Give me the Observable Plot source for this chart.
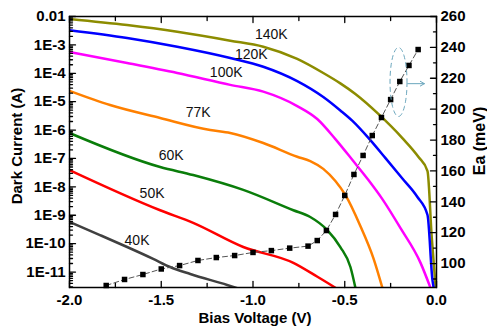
<!DOCTYPE html>
<html>
<head>
<meta charset="utf-8">
<script src="https://cdn.jsdelivr.net/npm/d3@7"></script>
<script src="https://cdn.jsdelivr.net/npm/@observablehq/plot@0.6"></script>
<style>
  html, body { margin: 0; padding: 0; background: #fff; }
  #chart { width: 487px; height: 332px; }
</style>
</head>
<body>
<div id="chart"></div>
<script>
// ---- data ----
const tempLabels = ["140K", "120K", "100K", "77K", "60K", "50K", "40K"];
const tempColors = ["#8c8c00", "#0000ff", "#ff00ff", "#ff8000", "#0a7d0a", "#ff0000", "#404040"];

const v140 = [-2.0, -1.686, -1.413, -1.124, -0.944, -0.759, -0.617, -0.524, -0.442, -0.317, -0.186, -0.098, -0.049, -0.026, -0.004];
const i140 = [8.2e-3, 5.0e-3, 2.9e-3, 1.41e-3, 8.6e-4, 3.2e-4, 1.02e-4, 4.4e-5, 1.86e-5, 3.7e-6, 5.2e-7, 1.12e-7, 3.6e-8, 1.7e-10, 2.5e-12];

const v120 = [-2.0, -1.686, -1.413, -1.124, -0.944, -0.759, -0.617, -0.524, -0.458, -0.37, -0.278, -0.186, -0.104, -0.049, -0.022, -0.014];
const i120 = [3.3e-3, 1.75e-3, 8.6e-4, 3.45e-4, 1.7e-4, 5.3e-5, 1.46e-5, 4.9e-6, 2.1e-6, 5.2e-7, 1.03e-7, 1.97e-8, 4.4e-9, 1.02e-9, 5.2e-12, 2.5e-12];

const v100 = [-2.0, -1.686, -1.413, -1.124, -0.944, -0.759, -0.65, -0.551, -0.458, -0.371, -0.295, -0.196, -0.087, -0.033];
const i100 = [5.6e-4, 2.3e-4, 1.02e-4, 3.9e-5, 2.25e-5, 7.0e-6, 2.45e-6, 4.8e-7, 8.8e-8, 1.74e-8, 3.7e-9, 3.5e-10, 2.1e-11, 2.8e-12];

const v77 = [-2.0, -1.779, -1.506, -1.233, -1.124, -0.944, -0.759, -0.688, -0.617, -0.551, -0.497, -0.415, -0.344, -0.295];
const i77 = [2.4e-5, 7.6e-6, 2.66e-6, 1.0e-6, 7.9e-7, 3.5e-7, 1.15e-7, 8.1e-8, 4.3e-8, 1.6e-8, 5.2e-9, 4.2e-10, 3.1e-11, 2.8e-12];

const v60 = [-2.0, -1.506, -1.326, -1.053, -0.78, -0.688, -0.595, -0.524, -0.469, -0.442];
const i60 = [7.9e-7, 5.0e-8, 2.6e-8, 7.8e-9, 1.5e-9, 8.7e-10, 3.0e-10, 7.6e-11, 1.5e-11, 2.8e-12];

const v50 = [-2.0, -1.506, -1.326, -1.053, -0.78, -0.649, -0.551];
const i50 = [3.9e-8, 1.5e-9, 5.4e-10, 7.6e-11, 2.1e-11, 6.8e-12, 2.8e-12];

const v40 = [-2.0, -1.834, -1.686, -1.544, -1.452, -1.342, -1.141, -1.07];
const i40 = [5.8e-10, 2.0e-10, 7.6e-11, 2.9e-11, 1.5e-11, 8.5e-12, 3.5e-12, 2.5e-12];

// label positions (bias, current)
const labelV = [-0.9, -1.009, -1.146, -1.299, -1.446, -1.55, -1.632];
const labelI = [2.24e-3, 4.4e-4, 1.03e-4, 4.0e-6, 1.23e-7, 5.6e-9, 1.24e-10];

// activation energy (right axis)
const eaV = [-1.8, -1.7, -1.6, -1.5, -1.4, -1.3, -1.2, -1.1, -1.0, -0.9, -0.8, -0.7, -0.65, -0.6, -0.55, -0.5, -0.45, -0.4, -0.35, -0.3, -0.25, -0.2, -0.15, -0.1];
const eaE = [85.8, 89.7, 92.9, 96.5, 98.7, 102, 103.9, 105.2, 107.2, 108.4, 110, 111.3, 114.9, 121.4, 131.8, 144.1, 157.7, 170, 182.9, 194.6, 206.2, 217.9, 228.3, 238.6];

// tick labels
const xMajor = [-2.0, -1.5, -1.0, -0.5, 0.0];
const xMinor = [-1.75, -1.25, -0.75, -0.25];
const yDecades = [1e-11, 1e-10, 1e-9, 1e-8, 1e-7, 1e-6, 1e-5, 1e-4, 1e-3, 1e-2];
const yLabels = ["1E-11", "1E-10", "1E-9", "1E-8", "1E-7", "1E-6", "1E-5", "1E-4", "1E-3", "0.01"];
const eaMajor = [100, 120, 140, 160, 180, 200, 220, 240, 260];
const eaMinor = [90, 110, 130, 150, 170, 190, 210, 230, 250];

// ---- scale ranges ----
const xLeft = -2, xRight = 0;
const logTop = -2, logBottom = -11.545;
const eaTop = 260, eaBottom = 84.5;
const iTop = Math.pow(10, logTop), iBottom = Math.pow(10, logBottom);
const eaToI = e => Math.pow(10, logTop - (eaTop - e) / (eaTop - eaBottom) * (logTop - logBottom));

const series = [[v140, i140], [v120, i120], [v100, i100], [v77, i77], [v60, i60], [v50, i50], [v40, i40]];
const curves = [];
series.forEach(([vs, is], k) => vs.forEach((v, j) => curves.push({T: tempLabels[k], V: v, I: is[j]})));
const labels = tempLabels.map((t, k) => ({T: t, V: labelV[k], I: labelI[k]}));
const ea = eaV.map((v, j) => ({V: v, I: eaToI(eaE[j])}));

const yMinor = [];
for (let e = -12; e <= -3; e++) for (let m = 2; m <= 9; m++) {
  const val = m * Math.pow(10, e);
  if (val > iBottom && val < iTop) yMinor.push(val);
}

const tickShape = {draw(ctx, l) { ctx.moveTo(0, 0); ctx.lineTo(0, -l); }};
const ellipseSymbol = {
  draw(ctx) {
    const rx = 8.5, ry = 34.5, n = 72;
    ctx.moveTo(rx, 0);
    for (let k = 1; k <= n; k++) {
      const t = 2 * Math.PI * k / n;
      ctx.lineTo(rx * Math.cos(t), ry * Math.sin(t));
    }
    ctx.closePath();
  }
};
const tickOpts = {anchor: "start", shape: tickShape, stroke: "#000", strokeWidth: 1.3};

const chart = Plot.plot({
  width: 487,
  height: 332,
  marginLeft: 69,
  marginRight: 51,
  marginTop: 16,
  marginBottom: 45,
  style: {fontFamily: "'Liberation Sans', Arial, sans-serif", fontSize: "15px", fontWeight: "bold", background: "#fff", color: "#000"},
  x: {domain: [xLeft, xRight], axis: null},
  y: {type: "log", domain: [iBottom, iTop], axis: null},
  color: {domain: tempLabels, range: tempColors},
  marks: [
    Plot.line(curves, {x: "V", y: "I", z: "T", stroke: "T", strokeWidth: 2.5, curve: "monotone-x", clip: true}),
    Plot.text(labels, {x: "V", y: "I", text: "T", fontSize: 14, fontWeight: "normal", fill: "#111"}),
    Plot.line(ea, {x: "V", y: "I", stroke: "#555", strokeWidth: 1, strokeDasharray: "5,3"}),
    Plot.dot(ea, {x: "V", y: "I", symbol: "square", r: 3.1, fill: "#000", stroke: "none"}),
    Plot.dot([{V: -0.207, I: eaToI(217.6)}], {x: "V", y: "I", symbol: ellipseSymbol, r: 5, fill: "none", stroke: "#6aa6bd", strokeWidth: 1, strokeDasharray: "5,3"}),
    Plot.arrow([{V1: -0.157, V2: -0.066, I: eaToI(216.5)}], {x1: "V1", x2: "V2", y1: "I", y2: "I", stroke: "#6aa6bd", strokeWidth: 1, headLength: 7}),
    Plot.frame({stroke: "#000", strokeWidth: 1.5}),
    // ticks (inward)
    Plot.vector(xMajor, {x: d => d, y: () => iBottom, length: 6, rotate: 0, ...tickOpts}),
    Plot.vector(xMinor, {x: d => d, y: () => iBottom, length: 4, rotate: 0, ...tickOpts}),
    Plot.vector(xMajor, {x: d => d, y: () => iTop, length: 6, rotate: 180, ...tickOpts}),
    Plot.vector(xMinor, {x: d => d, y: () => iTop, length: 4, rotate: 180, ...tickOpts}),
    Plot.vector(yDecades, {x: () => xLeft, y: d => d, length: 6, rotate: 90, ...tickOpts}),
    Plot.vector(yMinor, {x: () => xLeft, y: d => d, length: 3, rotate: 90, ...tickOpts}),
    Plot.vector(eaMajor, {x: () => xRight, y: eaToI, length: 6, rotate: -90, ...tickOpts}),
    Plot.vector(eaMinor, {x: () => xRight, y: eaToI, length: 3, rotate: -90, ...tickOpts}),
    // tick labels
    Plot.text(xMajor, {x: d => d, y: () => iBottom, text: d => d.toFixed(1), dy: 13, textAnchor: "middle"}),
    Plot.text(yDecades, {x: () => xLeft, y: d => d, text: (d, i) => yLabels[i], dx: -4, textAnchor: "end"}),
    Plot.text(eaMajor, {x: () => xRight, y: eaToI, text: d => String(d), dx: 4, textAnchor: "start"}),
    // axis titles
    Plot.text(["Dark Current (A)"], {frameAnchor: "left", text: d => d, rotate: -90, textAnchor: "middle", dx: -52, dy: -6, fontSize: 15}),
    Plot.text(["Bias Voltage (V)"], {frameAnchor: "bottom", text: d => d, textAnchor: "middle", dx: 2, dy: 35, fontSize: 15}),
    Plot.text(["Ea (meV)"], {frameAnchor: "right", text: d => d, rotate: -90, textAnchor: "middle", dx: 43, dy: -11, fontSize: 16})
  ]
});
document.getElementById("chart").appendChild(chart);
</script>
</body>
</html>
